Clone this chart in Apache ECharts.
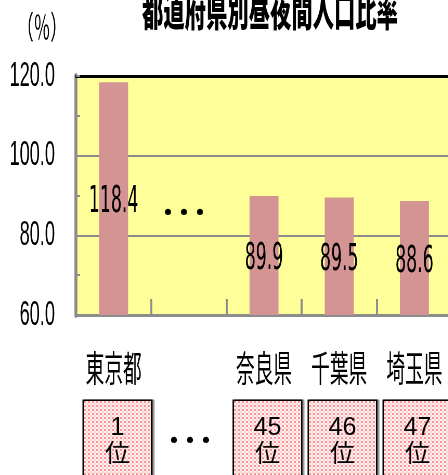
<!DOCTYPE html>
<html><head><meta charset="utf-8">
<script src="https://cdn.jsdelivr.net/npm/echarts@6/dist/echarts.min.js"></script>
<style>
html,body{margin:0;padding:0;overflow:hidden;background:#fff;width:448px;height:475px}
#main{position:absolute;left:0;top:0;width:862px;height:475px;transform:scaleX(0.52);transform-origin:0 0}
#ov{position:absolute;left:0;top:0;width:448px;height:475px;pointer-events:none}
</style></head><body>
<div id="main"></div><div id="ov"></div>
<script>
// ---- data ----
const chartTitle = '都道府県別昼夜間人口比率';
const unitLabel = '（％）';
const categories = ['東京都', '', '奈良県', '千葉県', '埼玉県'];
const values = [118.4, null, 89.9, 89.5, 88.6];
const ranks = [1, null, 45, 46, 47];
const rankSuffix = '位';
const yMin = 60, yMax = 120, yStep = 20;
const ellipsis = '･･･';

// ---- layout helpers ----
const S = 0.52;               // horizontal compression of the main drawing
const X = v => v / S;
const GRAY = '#8c8c8c';

function makePattern(w, h) {
  const c = document.createElement('canvas');
  c.width = w; c.height = h;
  const g = c.getContext('2d');
  const img = g.createImageData(w, h);
  for (let y = 0; y < h; y++) for (let x = 0; x < w; x++) {
    const i = (y * w + x) * 4;
    const a = x % 4 < 2, b = y % 4 < 2;
    const col = (a && b) ? [246, 150, 150] : (!a && !b) ? [252, 212, 212] : [255, 236, 236];
    img.data[i] = col[0]; img.data[i + 1] = col[1]; img.data[i + 2] = col[2]; img.data[i + 3] = 255;
  }
  g.putImageData(img, 0, 0);
  return c;
}

const main = echarts.init(document.getElementById('main'));
main.setOption({
  animation: false,
  grid: { left: X(76), width: X(376), top: 76, bottom: 160, show: true, backgroundColor: '#FFFF99', borderWidth: 0, outerBoundsMode: 'none', containLabel: false },
  xAxis: [{
    type: 'category', data: categories, position: 'bottom',
    axisLine: { lineStyle: { color: GRAY, width: 3 } },
    axisTick: { show: true, inside: true, length: 16, lineStyle: { color: GRAY, width: X(2) } },
    axisLabel: { interval: 0, color: '#000', fontSize: 36, fontFamily: '"Noto Sans CJK JP"', margin: 35 }
  }, {
    type: 'category', data: categories, position: 'top',
    axisLine: { lineStyle: { color: '#000', width: 3 } },
    axisTick: { show: false }, axisLabel: { show: false }
  }],
  yAxis: {
    type: 'value', min: yMin, max: yMax, interval: yStep,
    axisLine: { show: true, lineStyle: { color: GRAY, width: X(3) } },
    axisTick: { show: true, inside: true, length: X(4), lineStyle: { color: GRAY, width: 2 } },
    minorTick: { show: true, splitNumber: 2, length: X(4), lineStyle: { color: GRAY, width: 2 } },
    splitLine: { show: true, lineStyle: { color: GRAY, width: 2 } },
    axisLabel: { formatter: v => v.toFixed(1), color: '#000', fontSize: 35, fontFamily: '"Liberation Sans", Arial, sans-serif', margin: X(21) }
  },
  series: [{
    type: 'bar', data: values, barWidth: X(29), xAxisIndex: 0,
    itemStyle: { color: '#D49494' },
    label: {
      show: true, position: 'inside', color: '#000', fontSize: 37, offset: [0, 4],
      fontFamily: '"DejaVu Sans Condensed", "Liberation Sans", sans-serif',
      formatter: p => (p.value == null ? '' : Number(p.value).toFixed(1))
    }
  }],
  graphic: [
    { type: 'text', x: X(270), y: 10, style: { text: chartTitle, font: '900 41px "Noto Sans CJK JP"', fill: '#000', textAlign: 'center', textVerticalAlign: 'middle', align: 'center', verticalAlign: 'middle' } },
    { type: 'text', x: X(42), y: 27, style: { text: unitLabel, font: '32px "Noto Sans CJK JP"', fill: '#000', textAlign: 'center', textVerticalAlign: 'middle', align: 'center', verticalAlign: 'middle' } }
  ]
});

const ov = echarts.init(document.getElementById('ov'));
const boxBg = makePattern(67, 88);
ov.setOption({
  animation: false,
  grid: { left: 80, width: 375, top: 0, height: 395, outerBoundsMode: 'none', containLabel: false },
  xAxis: {
    type: 'category',
    data: ranks.map(r => r == null
      ? { value: '', textStyle: { backgroundColor: 'transparent', borderWidth: 0, shadowColor: 'transparent' } }
      : String(r)),
    axisLine: { show: false }, axisTick: { show: false }, splitLine: { show: false },
    axisLabel: {
      interval: 0, margin: 6, formatter: v => (v ? v + '\n' + rankSuffix : ''),
      color: '#000', fontSize: 25, lineHeight: 27, width: 67,
      fontFamily: '"Liberation Sans", Arial, "Noto Sans CJK JP", sans-serif',
      align: 'center', verticalAlign: 'top', padding: [14, 0, 20, 0],
      backgroundColor: { image: boxBg }, borderColor: '#000', borderWidth: 3,
      shadowColor: 'rgba(0,0,0,0.4)', shadowOffsetX: 2, shadowOffsetY: 0, shadowBlur: 0
    }
  },
  yAxis: { type: 'value', show: false },
  series: [],
  graphic: [
    { type: 'text', x: 184, y: 212, style: { text: ellipsis, font: 'bold 32px "Noto Sans CJK JP"', fill: '#000', textAlign: 'center', textVerticalAlign: 'middle', align: 'center', verticalAlign: 'middle' } },
    { type: 'text', x: 190, y: 440, style: { text: ellipsis, font: 'bold 32px "Noto Sans CJK JP"', fill: '#000', textAlign: 'center', textVerticalAlign: 'middle', align: 'center', verticalAlign: 'middle' } }
  ]
});
</script>
</body></html>
